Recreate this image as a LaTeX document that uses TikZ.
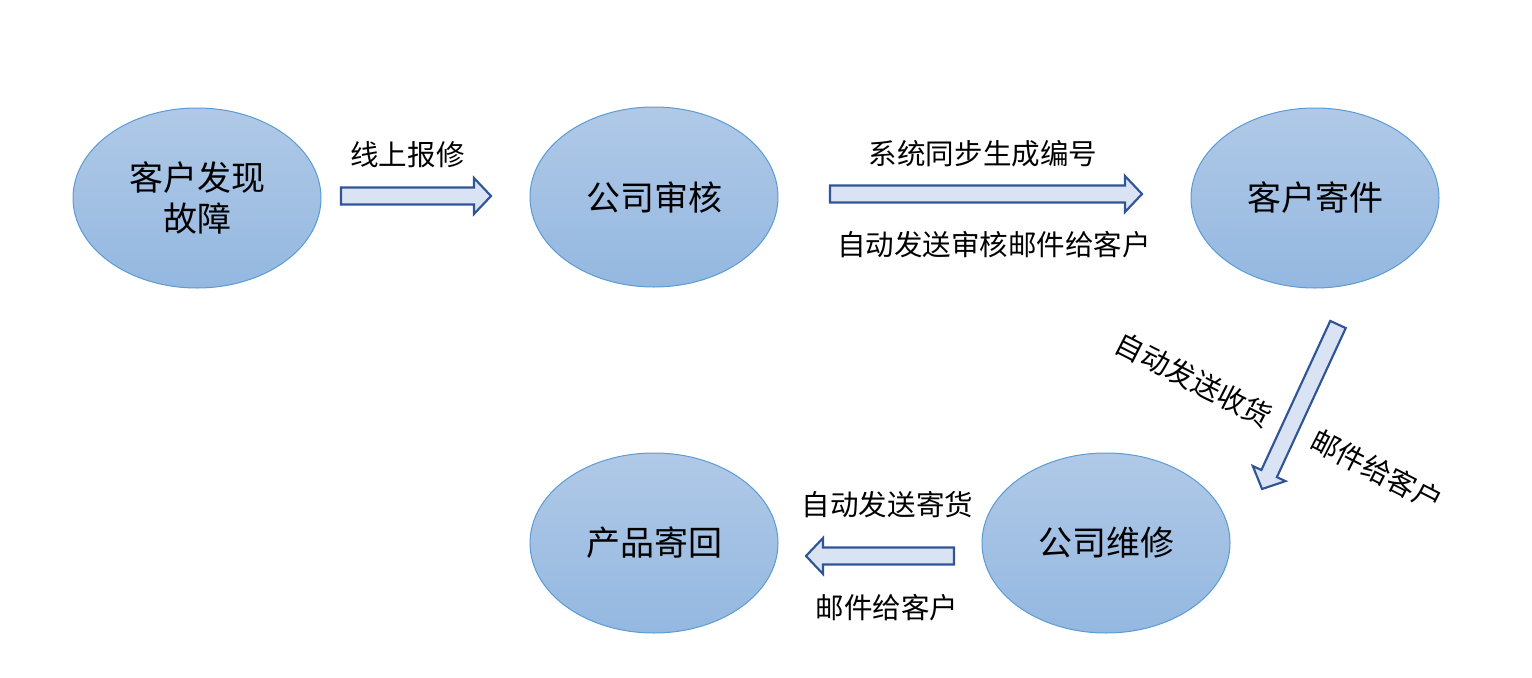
\documentclass[tikz,border=0pt]{standalone}
\usepackage{fontspec}
\setmainfont{Noto Sans CJK SC}
\usetikzlibrary{calc,shapes.geometric,positioning}
\definecolor{ellTop}{HTML}{B0C9E7}
\definecolor{ellBot}{HTML}{94B8E0}
\definecolor{ellLine}{HTML}{5B9BD5}
\definecolor{arrFill}{HTML}{DAE3F3}
\definecolor{arrLine}{HTML}{2F5597}

% block arrow between two named coordinates
\newcommand{\blockarrow}[2]{%
  \coordinate (hb) at ($(#2)!12.75pt!(#1)$);
  \draw[barrow] ($(#1)!6.4pt!90:(#2)$) -- ($(hb)!6.4pt!90:(#2)$) -- ($(hb)!13.5pt!90:(#2)$) -- (#2)
    -- ($(hb)!13.5pt!-90:(#2)$) -- ($(hb)!6.4pt!-90:(#2)$) -- ($(#1)!6.4pt!-90:(#2)$) -- cycle;}

\begin{document}
\begin{tikzpicture}[x=0.75pt,y=-0.75pt,
    ell/.style={ellipse, draw=ellLine, line width=0.75pt, top color=ellTop, bottom color=ellBot,
        minimum width=186pt, minimum height=135pt, inner sep=0pt, align=center,
        font=\fontsize{25.5}{31}\selectfont},
    lbl/.style={inner sep=0pt, font=\fontsize{21.4}{26}\selectfont},
    barrow/.style={draw=arrLine, fill=arrFill, line width=1.6pt, line join=miter}]
    \useasboundingbox (0,0) rectangle (1532,678);

    \node[ell] (fault) at (197,198) {客户发现\\故障};
    \node[ell] (audit) at (654,197) {公司审核};
    \node[ell] (send) at (1315,198) {客户寄件};
    \node[ell] (repair) at (1106,543) {公司维修};
    \node[ell] (back) at (654,543) {产品寄回};

    % arrows
    \coordinate (a1s) at (341,196); \coordinate (a1e) at (491,196);
    \coordinate (a2s) at (830,194); \coordinate (a2e) at (1142,194);
    \coordinate (a3s) at (1338,324.5); \coordinate (a3e) at (1262,489);
    \coordinate (a4s) at (954,556); \coordinate (a4e) at (806,556);
    \blockarrow{a1s}{a1e}
    \blockarrow{a2s}{a2e}
    \blockarrow{a3s}{a3e}
    \blockarrow{a4s}{a4e}

    \node[lbl] (l1) at (407.5,155) {线上报修};
    \node[lbl] (l2) at (983,154) {系统同步生成编号};
    \node[lbl] (l3) at (994,245) {自动发送审核邮件给客户};
    \node[lbl, rotate=-27] (l4) at (1194,380) {自动发送收货};
    \node[lbl, rotate=-27] (l5) at (1377,470) {邮件给客户};
    \node[lbl] (l6) at (887.5,505) {自动发送寄货};
    \node[lbl] (l7) at (887,608) {邮件给客户};
\end{tikzpicture}
\end{document}
